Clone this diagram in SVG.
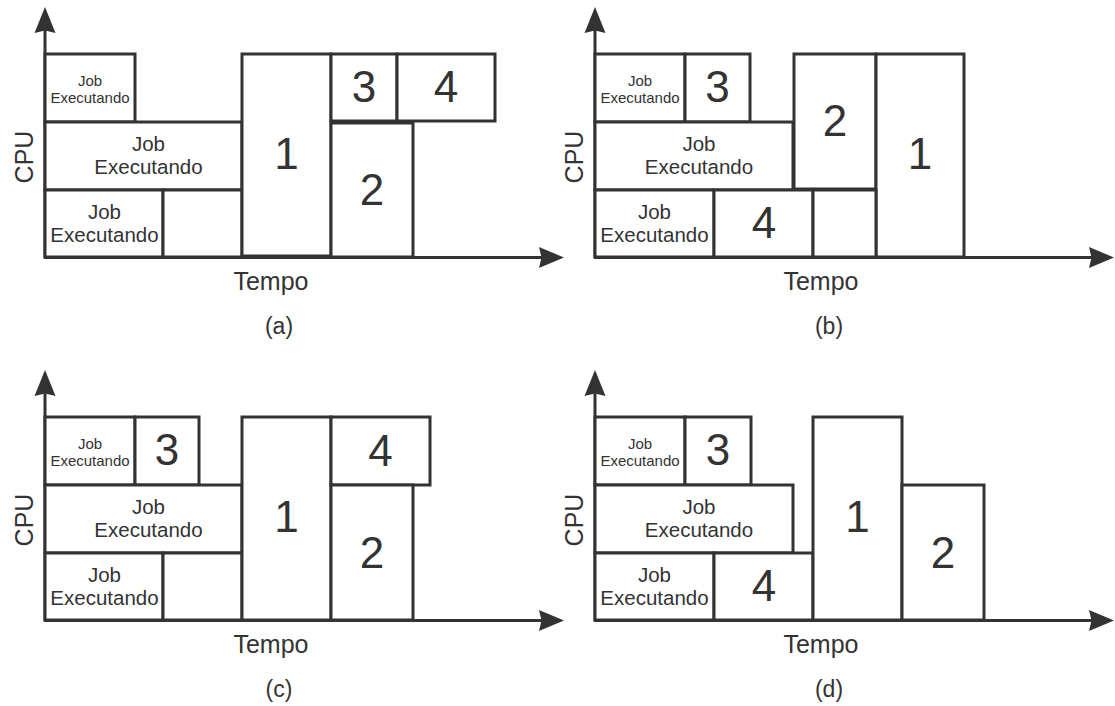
<svg xmlns="http://www.w3.org/2000/svg" width="1115" height="706" viewBox="0 0 1115 706">
<style>
.b{fill:#fff;stroke:#333;stroke-width:3}
.ax{stroke:#333;stroke-width:3;fill:none}
.ah{fill:#333;stroke:none}
text{font-family:"Liberation Sans",Arial,sans-serif;fill:#333;text-anchor:middle}
.s{font-size:15px}
.m{font-size:20.5px}
.n{font-size:44px}
.t{font-size:25px}
.c{font-size:23px}
</style>
<defs>
<path id="upArrow" d="M0,-26 L10.5,0 L0,-2.5 L-10.5,0 Z"/>
<path id="rightArrow" d="M25,0 L0,10.5 L2.5,0 L0,-10.5 Z"/>
</defs>
<rect width="1115" height="706" fill="#fff"/>

<!-- connectors: axes -->
<g id="connectors">
  <g id="axes-a">
    <line class="ax" x1="45" y1="258" x2="45" y2="30"/>
    <use href="#upArrow" class="ah" x="45" y="33"/>
    <line class="ax" x1="44" y1="257.5" x2="542" y2="257.5"/>
    <use href="#rightArrow" class="ah" x="539" y="257.5"/>
  </g>
  <g id="axes-b">
    <line class="ax" x1="595" y1="258" x2="595" y2="30"/>
    <use href="#upArrow" class="ah" x="595" y="33"/>
    <line class="ax" x1="594" y1="257.5" x2="1092" y2="257.5"/>
    <use href="#rightArrow" class="ah" x="1089" y="257.5"/>
  </g>
  <g id="axes-c">
    <line class="ax" x1="45" y1="621" x2="45" y2="393"/>
    <use href="#upArrow" class="ah" x="45" y="396"/>
    <line class="ax" x1="44" y1="620.5" x2="542" y2="620.5"/>
    <use href="#rightArrow" class="ah" x="539" y="620.5"/>
  </g>
  <g id="axes-d">
    <line class="ax" x1="595" y1="621" x2="595" y2="393"/>
    <use href="#upArrow" class="ah" x="595" y="396"/>
    <line class="ax" x1="594" y1="620.5" x2="1092" y2="620.5"/>
    <use href="#rightArrow" class="ah" x="1089" y="620.5"/>
  </g>
</g>

<!-- Panel (a) -->
<g id="panel-a">
  <g id="a-job1"><rect class="b" x="45" y="54" width="90" height="68"/><text class="s" x="90" y="86">Job</text><text class="s" x="90" y="102.5">Executando</text></g>
  <g id="a-job2"><rect class="b" x="45" y="122" width="197" height="68"/><text class="m" x="148.5" y="150.5">Job</text><text class="m" x="148.5" y="173.5">Executando</text></g>
  <g id="a-job3"><rect class="b" x="45" y="190" width="118" height="67"/><text class="m" x="104.5" y="218.5">Job</text><text class="m" x="104.5" y="242">Executando</text></g>
  <g id="a-empty"><rect class="b" x="163" y="190" width="79" height="67"/></g>
  <g id="a-1"><rect class="b" x="242" y="54" width="89" height="202"/><text class="n" x="286.5" y="169">1</text></g>
  <g id="a-3"><rect class="b" x="331" y="54" width="66" height="67"/><text class="n" x="364" y="102">3</text></g>
  <g id="a-4"><rect class="b" x="397" y="54" width="98" height="67"/><text class="n" x="446" y="102">4</text></g>
  <g id="a-2"><rect class="b" x="331" y="123" width="82" height="134"/><text class="n" x="372" y="205">2</text></g>
  <text class="t" transform="translate(33,157) rotate(-90)">CPU</text>
  <text class="t" x="271" y="290">Tempo</text>
  <text class="c" x="279" y="334">(a)</text>
</g>

<!-- Panel (b) -->
<g id="panel-b">
  <g id="b-job1"><rect class="b" x="595" y="54" width="90" height="68"/><text class="s" x="640" y="86">Job</text><text class="s" x="640" y="102.5">Executando</text></g>
  <g id="b-3"><rect class="b" x="685" y="54" width="65" height="68"/><text class="n" x="717.5" y="102">3</text></g>
  <g id="b-job2"><rect class="b" x="595" y="122" width="198" height="68"/><text class="m" x="699" y="150.5">Job</text><text class="m" x="699" y="173.5">Executando</text></g>
  <g id="b-2"><rect class="b" x="794" y="54" width="82" height="135"/><text class="n" x="835" y="136">2</text></g>
  <g id="b-1"><rect class="b" x="876" y="54" width="88" height="203"/><text class="n" x="920" y="169">1</text></g>
  <g id="b-job3"><rect class="b" x="595" y="190" width="119" height="67"/><text class="m" x="654.5" y="218.5">Job</text><text class="m" x="654.5" y="242">Executando</text></g>
  <g id="b-4"><rect class="b" x="714" y="190" width="99" height="67"/><text class="n" x="764" y="238">4</text></g>
  <g id="b-empty"><rect class="b" x="813" y="190" width="63" height="67"/></g>
  <text class="t" transform="translate(583,157) rotate(-90)">CPU</text>
  <text class="t" x="821" y="290">Tempo</text>
  <text class="c" x="829" y="334">(b)</text>
</g>

<!-- Panel (c) -->
<g id="panel-c">
  <g id="c-job1"><rect class="b" x="45" y="417" width="90" height="68"/><text class="s" x="90" y="449">Job</text><text class="s" x="90" y="465.5">Executando</text></g>
  <g id="c-3"><rect class="b" x="135" y="417" width="64" height="68"/><text class="n" x="167" y="465">3</text></g>
  <g id="c-job2"><rect class="b" x="45" y="485" width="197" height="68"/><text class="m" x="148.5" y="513.5">Job</text><text class="m" x="148.5" y="536.5">Executando</text></g>
  <g id="c-job3"><rect class="b" x="45" y="553" width="118" height="67"/><text class="m" x="104.5" y="581.5">Job</text><text class="m" x="104.5" y="605">Executando</text></g>
  <g id="c-empty"><rect class="b" x="163" y="553" width="79" height="67"/></g>
  <g id="c-1"><rect class="b" x="242" y="417" width="89" height="203"/><text class="n" x="286.5" y="532">1</text></g>
  <g id="c-4"><rect class="b" x="331" y="417" width="99" height="68"/><text class="n" x="380.5" y="466">4</text></g>
  <g id="c-2"><rect class="b" x="331" y="485" width="82" height="135"/><text class="n" x="372" y="568">2</text></g>
  <text class="t" transform="translate(33,520) rotate(-90)">CPU</text>
  <text class="t" x="271" y="653">Tempo</text>
  <text class="c" x="279" y="697">(c)</text>
</g>

<!-- Panel (d) -->
<g id="panel-d">
  <g id="d-job1"><rect class="b" x="595" y="417" width="90" height="68"/><text class="s" x="640" y="449">Job</text><text class="s" x="640" y="465.5">Executando</text></g>
  <g id="d-3"><rect class="b" x="685" y="417" width="66" height="68"/><text class="n" x="718" y="465">3</text></g>
  <g id="d-job2"><rect class="b" x="595" y="485" width="198" height="68"/><text class="m" x="699" y="513.5">Job</text><text class="m" x="699" y="536.5">Executando</text></g>
  <g id="d-job3"><rect class="b" x="595" y="553" width="119" height="67"/><text class="m" x="654.5" y="581.5">Job</text><text class="m" x="654.5" y="605">Executando</text></g>
  <g id="d-4"><rect class="b" x="714" y="553" width="99" height="67"/><text class="n" x="764" y="601">4</text></g>
  <g id="d-1"><rect class="b" x="813" y="417" width="89" height="203"/><text class="n" x="857.5" y="532">1</text></g>
  <g id="d-2"><rect class="b" x="902" y="485" width="82" height="135"/><text class="n" x="943" y="568">2</text></g>
  <text class="t" transform="translate(583,520) rotate(-90)">CPU</text>
  <text class="t" x="821" y="653">Tempo</text>
  <text class="c" x="829" y="697">(d)</text>
</g>
</svg>
